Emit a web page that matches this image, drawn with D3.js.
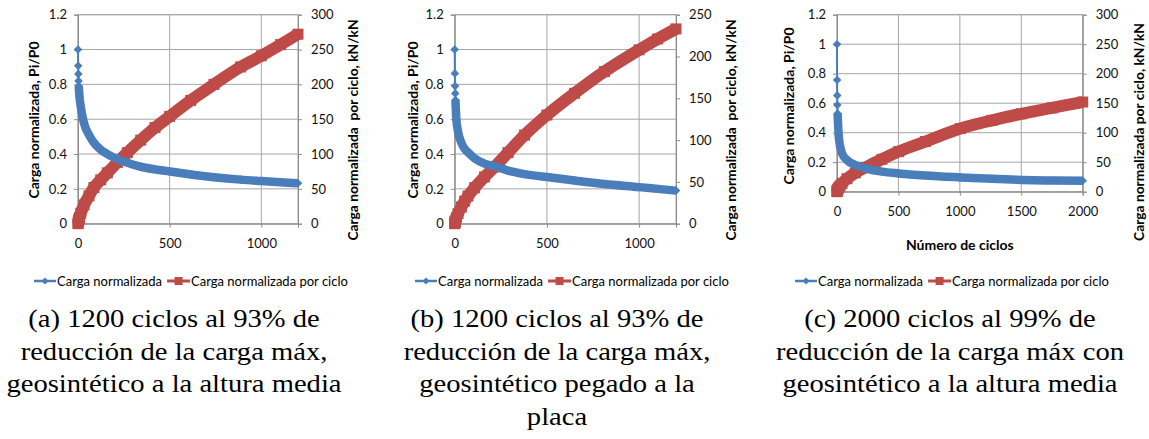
<!DOCTYPE html>
<html>
<head>
<meta charset="utf-8">
<script src="https://cdn.jsdelivr.net/npm/d3@7"></script>
<style>
  body { margin: 0; background: #fff; }
  svg text { font-family: Lato, "Open Sans", sans-serif; }
  svg text.caption { font-family: "Liberation Serif", "Times New Roman", serif; }
</style>
</head>
<body>
<svg id="chart" width="1149" height="439"></svg>
<script>
// data (cycles, normalized load Pi/P0, normalized load per cycle kN/kN)
var cyclosA = [0, 1, 2, 3, 4, 6, 8, 15, 33, 60, 87, 124, 160, 215, 269, 342, 420, 500, 615, 742, 887, 1000, 1105, 1200];
var cargaA = [1.0, 0.907, 0.86, 0.82, 0.79, 0.76, 0.73, 0.672, 0.576, 0.51, 0.465, 0.425, 0.40, 0.371, 0.35, 0.327, 0.312, 0.300, 0.283, 0.267, 0.253, 0.245, 0.238, 0.232];
var porCicloA = [0, 1.5, 3, 4, 5, 7, 9, 15, 27, 40, 52, 63, 73, 88, 102, 120, 138, 154, 177, 200, 225, 241, 257, 272];

var cyclosB = [0, 1, 2, 3, 4, 9, 18, 36, 54, 72, 108, 162, 217, 289, 379, 500, 650, 812, 1000, 1100, 1200];
var cargaB = [1.0, 0.863, 0.79, 0.748, 0.71, 0.60, 0.53, 0.465, 0.43, 0.41, 0.375, 0.345, 0.33, 0.305, 0.285, 0.268, 0.248, 0.228, 0.21, 0.2, 0.19];
var porCicloB = [0, 1, 2, 3, 3.5, 7, 12, 20, 27, 33, 43, 56, 68, 85, 106, 130, 156, 182, 208, 221, 233];

var cyclosC = [0, 1, 2, 3, 5, 8, 14, 25, 41, 81, 149, 231, 366, 502, 719, 1004, 1262, 1500, 1750, 2000];
var cargaC = [1.0, 0.757, 0.653, 0.588, 0.53, 0.47, 0.38, 0.31, 0.26, 0.215, 0.181, 0.158, 0.136, 0.124, 0.11, 0.097, 0.087, 0.08, 0.076, 0.074];
var porCicloC = [0, 1, 1.5, 2, 3, 4.5, 7, 10, 14, 22, 32, 41, 55, 68, 85, 107, 121, 132, 142, 152];

var ticksIzq = [0, 0.2, 0.4, 0.6, 0.8, 1, 1.2];
var ticksDer300 = [0, 50, 100, 150, 200, 250, 300];
var ticksDer250 = [0, 50, 100, 150, 200, 250];
var ticksX1200 = [0, 500, 1000];
var ticksX2000 = [0, 500, 1000, 1500, 2000];

var seriesNames = ["Carga normalizada", "Carga normalizada por ciclo"];
var tituloIzq = "Carga normalizada, Pi/P0";
var tituloDerAB = "Carga normalizada  por ciclo, kN/kN";
var tituloDerC = "Carga normalizada por ciclo, kN/kN";
var tituloX = "Número de ciclos";

var captionA = ["(a) 1200 ciclos al 93% de", "reducción de la carga máx,", "geosintético a la altura media"];
var captionB = ["(b) 1200 ciclos al 93% de", "reducción de la carga máx,", "geosintético pegado a la", "placa"];
var captionC = ["(c) 2000 ciclos al 99% de", "reducción de la carga máx con", "geosintético a la altura media"];

var BLUE = "#4a7ebb", RED = "#be4b48", GRID = "#a6a6a6";

var svg = d3.select("#chart");

var panels = [
  { left: 78, right: 298, top: 14.7, bottom: 223.7, xMax: 1200, rMax: 300,
    xs: cyclosA, blue: cargaA, red: porCicloA, rTicks: ticksDer300, xTicks: ticksX1200,
    leftTitleX: 33, leftTitleY: 120, rightTitle: tituloDerAB, rightTitleX: 352, rightTitleY: 130,
    xTitle: null, legendX: 34, caption: captionA, captionX: 174 },
  { left: 454.7, right: 676, top: 14.7, bottom: 223.7, xMax: 1200, rMax: 250,
    xs: cyclosB, blue: cargaB, red: porCicloB, rTicks: ticksDer250, xTicks: ticksX1200,
    leftTitleX: 412, leftTitleY: 120, rightTitle: tituloDerAB, rightTitleX: 730, rightTitleY: 130,
    xTitle: null, legendX: 415, caption: captionB, captionX: 557 },
  { left: 837, right: 1082.7, top: 14.7, bottom: 191.7, xMax: 2000, rMax: 300,
    xs: cyclosC, blue: cargaC, red: porCicloC, rTicks: ticksDer300, xTicks: ticksX2000,
    leftTitleX: 788, leftTitleY: 106, rightTitle: tituloDerC, rightTitleX: 1138, rightTitleY: 132,
    xTitle: tituloX, legendX: 795, caption: captionC, captionX: 950 }
];

function diamond(s) {
  return "M0," + (-s) + "L" + s + ",0L0," + s + "L" + (-s) + ",0Z";
}

panels.forEach(function (p) {
  var x = d3.scaleLinear().domain([0, p.xMax]).range([p.left, p.right]);
  var yL = d3.scaleLinear().domain([0, 1.2]).range([p.bottom, p.top]);
  var yR = d3.scaleLinear().domain([0, p.rMax]).range([p.bottom, p.top]);
  var g = svg.append("g");

  // gridlines
  g.append("g").selectAll("line").data(ticksIzq).enter().append("line")
    .attr("x1", p.left).attr("x2", p.right)
    .attr("y1", function (d) { return yL(d); }).attr("y2", function (d) { return yL(d); })
    .attr("stroke", GRID).attr("stroke-width", 1);
  g.append("g").selectAll("line").data(p.xTicks).enter().append("line")
    .attr("x1", function (d) { return x(d); }).attr("x2", function (d) { return x(d); })
    .attr("y1", p.top).attr("y2", p.bottom)
    .attr("stroke", GRID).attr("stroke-width", 1);
  g.append("rect").attr("x", p.left).attr("y", p.top)
    .attr("width", p.right - p.left).attr("height", p.bottom - p.top)
    .attr("fill", "none").attr("stroke", GRID);

  // axes
  var axL = g.append("g").attr("transform", "translate(" + p.left + ",0)")
    .call(d3.axisLeft(yL).tickValues(ticksIzq).tickSize(4).tickPadding(7).tickFormat(d3.format("~g")));
  var axR = g.append("g").attr("transform", "translate(" + p.right + ",0)")
    .call(d3.axisRight(yR).tickValues(p.rTicks).tickSize(4).tickPadding(9).tickFormat(d3.format("d")));
  var axB = g.append("g").attr("transform", "translate(0," + p.bottom + ")")
    .call(d3.axisBottom(x).tickValues(p.xTicks).tickSize(4).tickPadding(11).tickFormat(d3.format("d")));
  [axL, axR, axB].forEach(function (ax) {
    ax.select(".domain").attr("stroke", "#8c8c8c");
    ax.selectAll(".tick line").attr("stroke", "#8c8c8c");
    ax.selectAll("text").attr("font-size", "13px").attr("fill", "#111")
      .style("font-family", "Lato, sans-serif");
  });

  // series: red (per cycle) behind, blue on top
  var lineR = d3.line().x(function (d, i) { return x(p.xs[i]); })
    .y(function (d) { return yR(d); }).curve(d3.curveMonotoneX);
  var lineL = d3.line().x(function (d, i) { return x(p.xs[i]); })
    .y(function (d) { return yL(d); }).curve(d3.curveMonotoneX);

  g.append("path").attr("d", lineR(p.red)).attr("fill", "none")
    .attr("stroke", RED).attr("stroke-width", 12).attr("stroke-linejoin", "round");
  g.append("g").selectAll("rect").data(p.red).enter().append("rect")
    .attr("x", function (d, i) { return x(p.xs[i]) - 5.5; })
    .attr("y", function (d) { return yR(d) - 5.5; })
    .attr("width", 11).attr("height", 11).attr("fill", RED);

  // thin connector for the sparse first points, thick band for the dense part
  g.append("path").attr("d", lineL(p.blue)).attr("fill", "none")
    .attr("stroke", BLUE).attr("stroke-width", 2);
  var startBand = 4;
  var bandLine = d3.line().x(function (d, i) { return x(p.xs[i + startBand]); })
    .y(function (d) { return yL(d); }).curve(d3.curveMonotoneX);
  g.append("path").attr("d", bandLine(p.blue.slice(startBand))).attr("fill", "none")
    .attr("stroke", BLUE).attr("stroke-width", 8.5).attr("stroke-linejoin", "round");
  g.append("g").selectAll("path").data(p.blue).enter().append("path")
    .attr("transform", function (d, i) { return "translate(" + x(p.xs[i]) + "," + yL(d) + ")"; })
    .attr("d", diamond(4.3)).attr("fill", BLUE);

  // axis titles
  g.append("text").attr("transform", "translate(" + p.leftTitleX + "," + p.leftTitleY + ") rotate(-90)")
    .attr("text-anchor", "middle").attr("dominant-baseline", "central")
    .attr("font-weight", "bold").attr("font-size", "14px").text(tituloIzq);
  g.append("text").attr("transform", "translate(" + p.rightTitleX + "," + p.rightTitleY + ") rotate(-90)")
    .attr("text-anchor", "middle").attr("dominant-baseline", "central")
    .attr("font-weight", "bold").attr("font-size", "13.8px")
    .style("white-space", "pre").text(p.rightTitle);
  if (p.xTitle) {
    g.append("text").attr("x", (p.left + p.right) / 2).attr("y", p.bottom + 53)
      .attr("text-anchor", "middle").attr("dominant-baseline", "central")
      .attr("font-weight", "bold").attr("font-size", "14px").text(p.xTitle);
  }

  // legend
  var ly = 281, lx = p.legendX;
  var leg = g.append("g");
  leg.append("line").attr("x1", lx).attr("x2", lx + 22).attr("y1", ly).attr("y2", ly)
    .attr("stroke", BLUE).attr("stroke-width", 2.5);
  leg.append("path").attr("transform", "translate(" + (lx + 11) + "," + ly + ")")
    .attr("d", diamond(3.6)).attr("fill", BLUE);
  var t1 = leg.append("text").attr("x", lx + 23).attr("y", ly).attr("dominant-baseline", "central")
    .attr("font-size", "13px").text(seriesNames[0]);
  var rx = lx + 23 + t1.node().getComputedTextLength() + 5;
  leg.append("line").attr("x1", rx).attr("x2", rx + 23).attr("y1", ly).attr("y2", ly)
    .attr("stroke", RED).attr("stroke-width", 3);
  leg.append("rect").attr("x", rx + 7.5).attr("y", ly - 4).attr("width", 8).attr("height", 8)
    .attr("fill", RED);
  leg.append("text").attr("x", rx + 24).attr("y", ly).attr("dominant-baseline", "central")
    .attr("font-size", "13px").text(seriesNames[1]);

  // caption (the source figure is slightly stretched horizontally)
  g.append("g").selectAll("text").data(p.caption).enter().append("text")
    .attr("class", "caption")
    .attr("transform", function (d, i) { return "translate(" + p.captionX + "," + (327 + i * 32.5) + ") scale(1.1,1)"; })
    .attr("text-anchor", "middle")
    .attr("font-size", "26px").attr("fill", "#000").text(function (d) { return d; });
});
</script>
</body>
</html>
